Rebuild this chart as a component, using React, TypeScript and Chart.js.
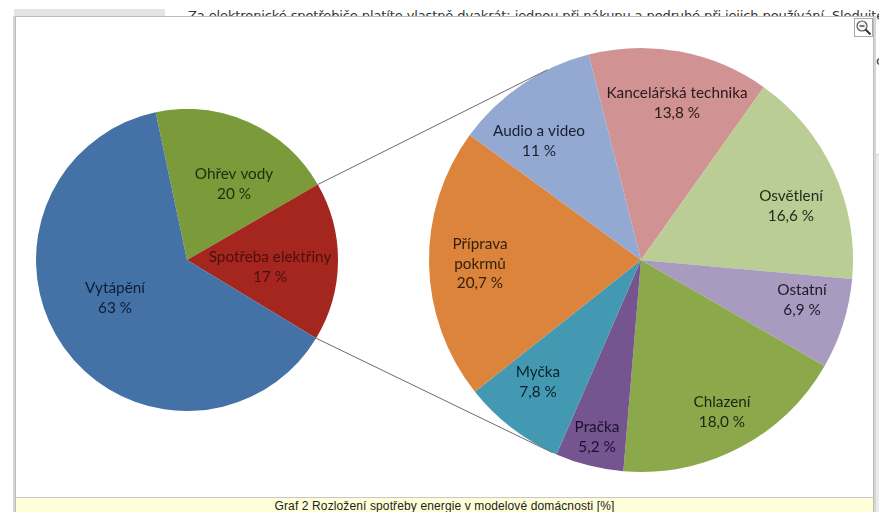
import React, { useEffect, useRef } from "react";
import { Chart, registerables } from "chart.js";

Chart.register(...registerables);

const leftNames = ["Ohřev vody", "Spotřeba elektřiny", "Vytápění"];
const leftValues = [20, 17, 63];
const leftValueText = ["20 %", "17 %", "63 %"];
const leftColors = ["#7B9A39", "#A5261F", "#4472A6"];
const leftTextColors = ["#1E2D0E", "#4C0F0D", "#0E1D33"];
const leftLabelOffsets = [[47, -76], [83, 7], [-72, 38]];

const rightNames = ["Kancelářská technika", "Osvětlení", "Ostatní", "Chlazení", "Pračka", "Myčka", "Příprava\npokrmů", "Audio a video"];
const rightValues = [13.8, 16.6, 6.9, 18.0, 5.2, 7.8, 20.7, 11];
const rightValueText = ["13,8 %", "16,6 %", "6,9 %", "18,0 %", "5,2 %", "7,8 %", "20,7 %", "11 %"];
const rightColors = ["#D09292", "#B9CD95", "#A99BBF", "#8BA84B", "#75558F", "#4499B2", "#DC843C", "#93A9D1"];
const rightTextColors = ["#2A1A1A", "#252C1A", "#1E1A28", "#1C2610", "#1B1030", "#0B2028", "#35200C", "#181E30"];
const rightLabelOffsets = [[36, -157], [150, -54], [161, 40], [81, 152], [-44, 177], [-103, 122], [-161, 4], [-102, -119]];

const connectorAngles = [-26.2, 204.6];
const caption = "Graf 2 Rozložení spotřeby energie v modelové domácnosti [%]";
const backgroundText = "Za elektronické spotřebiče platíte vlastně dvakrát; jednou při nákupu a podruhé při jejich používání. Sledujte";

const labelPlugin = (names: string[], values: string[], colors: string[], offsets: number[][]) => ({
  id: "sliceLabels",
  afterDatasetsDraw(chart: any) {
    const arc = chart.getDatasetMeta(0).data[0];
    const ctx = chart.ctx;
    ctx.save();
    ctx.font = "15.3px Lato";
    ctx.textAlign = "center";
    ctx.textBaseline = "middle";
    names.forEach((name, i) => {
      const lines = [...name.split("\n"), values[i]];
      const cx = arc.x + offsets[i][0];
      const cy = arc.y + offsets[i][1];
      ctx.fillStyle = colors[i];
      lines.forEach((line, j) => {
        ctx.fillText(line, cx, cy + (j - (lines.length - 1) / 2) * 19.5);
      });
    });
    ctx.restore();
  },
});

const pieOptions = (rotation: number, padding: any) => ({
  responsive: false,
  animation: false as const,
  rotation,
  layout: { padding },
  events: [],
  plugins: { legend: { display: false }, tooltip: { enabled: false } },
});

export default function App() {
  const leftRef = useRef<HTMLCanvasElement>(null);
  const rightRef = useRef<HTMLCanvasElement>(null);

  useEffect(() => {
    document.body.style.margin = "0";
    const left = new Chart(leftRef.current!, {
      type: "pie",
      data: {
        labels: leftNames,
        datasets: [{ data: leftValues, backgroundColor: leftColors, borderWidth: 0 }],
      },
      options: pieOptions(-12, 0),
      plugins: [labelPlugin(leftNames, leftValueText, leftTextColors, leftLabelOffsets)],
    } as any);

    const connectors = {
      id: "connectors",
      afterDatasetsDraw(chart: any) {
        const leftCanvas = leftRef.current!;
        const rightCanvas = rightRef.current!;
        const dx = leftCanvas.offsetLeft - rightCanvas.offsetLeft;
        const dy = leftCanvas.offsetTop - rightCanvas.offsetTop;
        const leftArcs = left.getDatasetMeta(0).data as any[];
        const rightArc = chart.getDatasetMeta(0).data[0];
        const ctx = chart.ctx;
        ctx.save();
        ctx.strokeStyle = "#6B6B6B";
        ctx.lineWidth = 1;
        connectorAngles.forEach((deg, i) => {
          const a = leftArcs[i];
          const angle = (deg * Math.PI) / 180 - Math.PI / 2;
          ctx.beginPath();
          ctx.moveTo(a.x + dx + a.outerRadius * Math.cos(a.endAngle), a.y + dy + a.outerRadius * Math.sin(a.endAngle));
          ctx.lineTo(rightArc.x + rightArc.outerRadius * Math.cos(angle), rightArc.y + rightArc.outerRadius * Math.sin(angle));
          ctx.stroke();
        });
        ctx.restore();
      },
    };

    const right = new Chart(rightRef.current!, {
      type: "pie",
      data: {
        labels: rightNames,
        datasets: [{ data: rightValues, backgroundColor: rightColors, borderWidth: 0 }],
      },
      options: pieOptions(-14.3, { left: 413, right: 20, top: 31, bottom: 25 }),
      plugins: [connectors, labelPlugin(rightNames, rightValueText, rightTextColors, rightLabelOffsets)],
    } as any);

    return () => {
      left.destroy();
      right.destroy();
    };
  }, []);

  const box = (l: number, t: number, w: number, h: number, extra: React.CSSProperties = {}): React.CSSProperties => ({
    position: "absolute", left: l, top: t, width: w, height: h, ...extra,
  });

  return (
    <div style={{ position: "fixed", left: 0, top: 0, width: 879, height: 512, overflow: "hidden", background: "#fff" }}>
      <div style={box(14, 9, 151, 8, { background: "#E4E4E4" })} />
      <div style={box(188, 8, 691, 18, { font: "13px 'DejaVu Sans'", color: "#333", whiteSpace: "nowrap", letterSpacing: "-0.11px", overflow: "hidden" })}>{backgroundText}</div>
      <div style={box(876, 53, 3, 14, { font: "13px 'DejaVu Sans'", color: "#333", overflow: "hidden" })}>c</div>
      <div style={box(873, 154, 6, 1, { background: "#F2D68A" })} />
      <div style={box(876, 155, 3, 357, { background: "#EBEBEB" })} />
      <div style={box(13, 16, 863, 496, { background: "#D6D6D6" })} />
      <div style={box(15, 16, 859, 496, { background: "#BDBDBD" })} />
      <div style={box(16, 17, 857, 480, { background: "#FFFFFF" })}>
        <canvas ref={rightRef} width={857} height={480} style={{ position: "absolute", left: 0, top: 0 }} />
        <canvas ref={leftRef} width={302} height={302} style={{ position: "absolute", left: 20, top: 92 }} />
        <div style={box(838, 1, 19, 19, { boxSizing: "border-box", background: "#fff", border: "1px solid #A8A8A8" })}>
          <svg width="17" height="17" viewBox="0 0 17 17" style={{ display: "block" }}>
            <circle cx="7" cy="7" r="5" fill="#F4F4F4" stroke="#555" strokeWidth="1.2" />
            <line x1="4.5" y1="7" x2="9.5" y2="7" stroke="#222" strokeWidth="1.2" />
            <line x1="10.5" y1="10.5" x2="15.5" y2="15.5" stroke="#333" strokeWidth="2" />
          </svg>
        </div>
      </div>
      <div style={box(16, 497, 857, 15, { background: "#FEFED9", font: "12px 'Liberation Sans'", lineHeight: "17px", letterSpacing: "0.12px", textAlign: "center", color: "#222", whiteSpace: "nowrap", overflow: "hidden", borderTop: "1px solid #C8C8C8", boxSizing: "border-box" })}>{caption}</div>
    </div>
  );
}
